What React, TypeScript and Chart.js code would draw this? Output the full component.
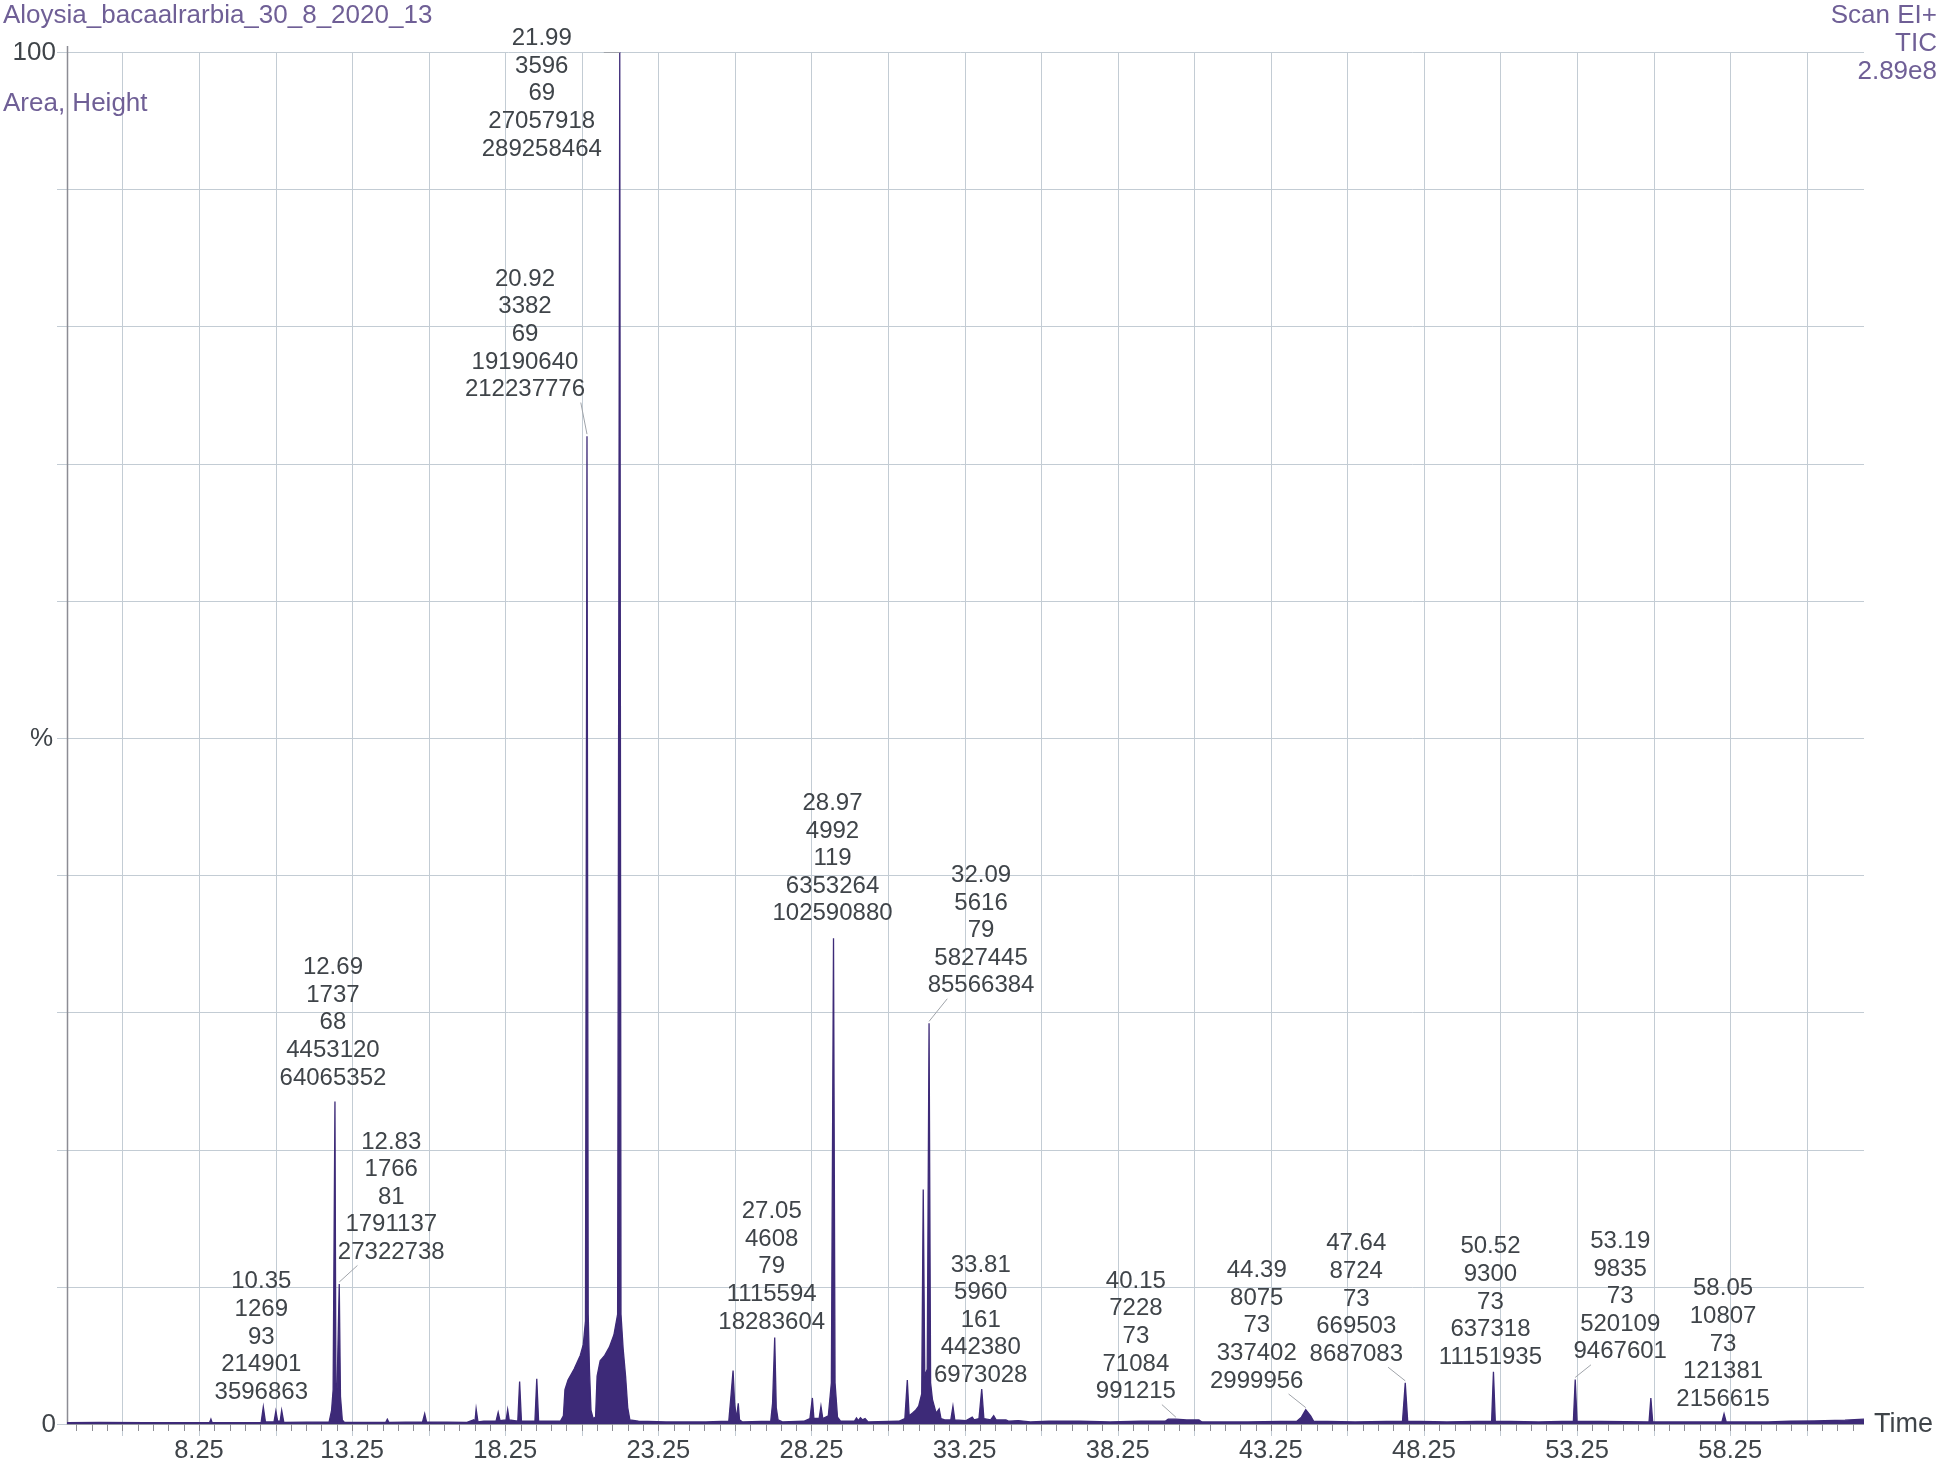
import React, { useEffect, useRef } from 'react';
import { Chart, registerables } from 'chart.js';

Chart.register(...registerables);

// ---------- text ----------
const sampleName = 'Aloysia_bacaalrarbia_30_8_2020_13';
const leftSubtitle = 'Area, Height';
const headerRight = ['Scan EI+', 'TIC', '2.89e8'];
const yAxisText = ['100', '%', '0'];
const yAxisTextValues = [100, 50, 0];
const xAxisTitle = 'Time';
const xTickLabels = ['8.25', '13.25', '18.25', '23.25', '28.25', '33.25', '38.25', '43.25', '48.25', '53.25', '58.25'];

// ---------- axis ranges ----------
const xMin = 3.94;
const xMax = 62.62;
const yMin = 0;
const yMax = 100;

// ---------- chromatogram trace (time, % of 2.89e8) ----------
const traceTime = [
  3.94, 5.0, 6.5, 8.6, 8.64, 8.68,
  10.28, 10.35, 10.42, 10.7, 10.76, 10.82, 10.9, 10.95, 11.02,
  12.5, 12.58, 12.63, 12.69, 12.72, 12.76, 12.83, 12.87, 12.93, 13.0,
  14.35, 14.4, 14.45, 15.55, 15.62, 15.68,
  17.0, 17.22, 17.26, 17.3, 17.36, 17.55,
  17.95, 18.02, 18.08, 18.28, 18.33, 18.38,
  18.66, 18.72, 18.78, 19.22, 19.28, 19.34,
  20.05, 20.15, 20.2, 20.3, 20.4, 20.5, 20.6, 20.7, 20.8, 20.87, 20.92, 20.96, 21.0, 21.05, 21.12,
  21.2, 21.25, 21.35, 21.5, 21.65, 21.8, 21.92, 21.99, 22.03, 22.1, 22.18, 22.25, 22.32,
  22.6, 23.5, 24.8,
  25.55, 25.62, 25.69, 25.74, 25.8, 25.86, 25.9, 26.0,
  26.92, 26.98, 27.05, 27.1, 27.16, 27.3,
  28.0, 28.2, 28.28, 28.33, 28.5, 28.56, 28.62, 28.8, 28.9, 28.97, 29.02, 29.1, 29.2,
  29.65, 29.72, 29.78, 29.85, 29.92, 30.0, 30.1,
  31.1, 31.3, 31.38, 31.44, 31.55, 31.65, 31.75, 31.85, 31.9, 31.95, 32.03, 32.09, 32.14, 32.2, 32.26, 32.32, 32.42, 32.48,
  32.6, 32.8, 32.87, 32.93, 33.3, 33.5, 33.56, 33.72, 33.81, 33.88,
  34.1, 34.2, 34.28, 34.6, 34.7, 35.0, 35.4, 36.0, 37.0, 38.0, 39.0,
  39.8, 39.9, 40.15, 40.5, 40.9, 41.0,
  42.5, 44.1, 44.25, 44.39, 44.55, 44.65,
  46.0, 47.55, 47.64, 47.72,
  49.0, 50.46, 50.52, 50.58,
  52.0, 53.13, 53.19, 53.25,
  55.6, 55.66, 55.72,
  57.98, 58.05, 58.12,
  59.5, 60.2, 61.0, 62.0, 62.62,
];
const tracePct = [
  0.1, 0.12, 0.1, 0.12, 0.35, 0.1,
  0.12, 1.25, 0.15, 0.15, 0.95, 0.2, 0.2, 1.0, 0.12,
  0.15, 1.0, 2.5, 23.5, 3.0, 2.6, 10.2, 2.0, 0.3, 0.12,
  0.12, 0.35, 0.12, 0.15, 0.75, 0.15,
  0.12, 0.3, 0.12, 1.1, 0.15, 0.2,
  0.2, 0.85, 0.25, 0.3, 1.05, 0.3,
  0.2, 3.1, 0.2, 0.2, 3.3, 0.2,
  0.2, 0.6, 2.5, 3.2, 3.6, 4.0, 4.5, 5.0, 5.8, 7.5, 72, 8, 4, 1.0, 0.4,
  0.5, 3.5, 4.6, 5.0, 5.6, 6.5, 8, 100, 8, 5.5, 3.5, 1.2, 0.3,
  0.2, 0.15, 0.15,
  0.2, 2.0, 3.9, 1.5, 0.4, 1.5, 0.3, 0.15,
  0.2, 1.5, 6.3, 1.2, 0.3, 0.15,
  0.2, 0.4, 1.9, 0.4, 0.4, 1.3, 0.4, 0.6, 3, 35.4, 3, 0.5, 0.2,
  0.2, 0.45, 0.25, 0.45, 0.3, 0.4, 0.15,
  0.2, 0.4, 3.2, 0.6, 0.8, 1.0, 1.3, 2.2, 17.1, 3.5, 4, 29.2, 3, 1.8, 1.3, 0.8, 1.1, 0.4,
  0.3, 0.3, 1.3, 0.3, 0.25, 0.5, 0.3, 0.4, 2.55, 0.4,
  0.3, 0.6, 0.3, 0.3, 0.2, 0.25, 0.15, 0.2, 0.2, 0.15, 0.2,
  0.2, 0.35, 0.35, 0.3, 0.3, 0.15,
  0.15, 0.2, 0.5, 1.05, 0.6, 0.2,
  0.15, 0.2, 3.0, 0.2,
  0.15, 0.2, 3.8, 0.2,
  0.15, 0.2, 3.25, 0.2,
  0.15, 1.9, 0.15,
  0.15, 0.75, 0.15,
  0.15, 0.2, 0.22, 0.28, 0.35,
];

// ---------- peak annotations ----------
const peakRT = ['10.35', '12.69', '12.83', '20.92', '21.99', '27.05', '28.97', '32.09', '33.81', '40.15', '44.39', '47.64', '50.52', '53.19', '58.05'];
const peakScan = [1269, 1737, 1766, 3382, 3596, 4608, 4992, 5616, 5960, 7228, 8075, 8724, 9300, 9835, 10807];
const peakMass = [93, 68, 81, 69, 69, 79, 119, 79, 161, 73, 73, 73, 73, 73, 73];
const peakArea = [214901, 4453120, 1791137, 19190640, 27057918, 1115594, 6353264, 5827445, 442380, 71084, 337402, 669503, 637318, 520109, 121381];
const peakHeight = [3596863, 64065352, 27322738, 212237776, 289258464, 18283604, 102590880, 85566384, 6973028, 991215, 2999956, 8687083, 11151935, 9467601, 2156615];

// label placement (pixel offsets from the apex) – layout only
const labelDx = [-2, -2, 52, -62, -78, -3, -1, 52, -1, -40, -49, -49, -3, 45, -1];
const labelDy = [-125, -134, -142, -157, -13.5, -126, -135, -148, -124, -138, -139, -139, -125, -138, -125];
// 0 = none, 1 = slanted leader from label bottom, 2 = horizontal leader at apex level
const labelLeader = [0, 0, 1, 1, 2, 0, 0, 1, 0, 1, 1, 1, 0, 1, 0];

// ---------- styles ----------
const FONT = '"Liberation Sans", Arial, sans-serif';
const TRACE = '#3d2a78';
const GRID = '#c3ccd4';
const AXIS = '#8c8c94';
const PURPLE = '#6f5f96';
const TEXT = '#3f4449';

function apexPct(rt: number): number {
  let best = 0;
  for (let i = 0; i < traceTime.length; i++) {
    if (Math.abs(traceTime[i] - rt) < 0.025 && tracePct[i] > best) best = tracePct[i];
  }
  return best;
}

const decorPlugin = {
  id: 'gcDecor',
  beforeDatasetsDraw(chart: any) {
    const { ctx, chartArea: a, scales } = chart;
    const xs = scales.x;
    const ys = scales.y;
    ctx.save();
    ctx.lineWidth = 1;
    ctx.strokeStyle = GRID;
    for (let v = yMin; v <= yMax; v += 10) {
      const py = Math.round(ys.getPixelForValue(v)) + 0.5;
      ctx.beginPath();
      ctx.moveTo(a.left - 10, py);
      ctx.lineTo(a.right, py);
      ctx.stroke();
    }
    for (let v = 5.75; v < xMax; v += 2.5) {
      const px = Math.round(xs.getPixelForValue(v)) + 0.5;
      ctx.beginPath();
      ctx.moveTo(px, a.top);
      ctx.lineTo(px, a.bottom + 12);
      ctx.stroke();
    }
    ctx.strokeStyle = AXIS;
    for (let v = 4.25; v < xMax; v += 0.5) {
      const px = Math.round(xs.getPixelForValue(v)) + 0.5;
      ctx.beginPath();
      ctx.moveTo(px, a.bottom);
      ctx.lineTo(px, a.bottom + 7);
      ctx.stroke();
    }
    ctx.strokeStyle = AXIS;
    ctx.lineWidth = 1.5;
    ctx.beginPath();
    ctx.moveTo(a.left + 0.5, a.top - 6);
    ctx.lineTo(a.left + 0.5, a.bottom);
    ctx.lineTo(a.right, a.bottom);
    ctx.stroke();
    ctx.restore();
  },
  afterDatasetsDraw(chart: any) {
    const { ctx, chartArea: a, scales } = chart;
    const xs = scales.x;
    const ys = scales.y;
    ctx.save();
    ctx.textBaseline = 'middle';

    ctx.fillStyle = PURPLE;
    ctx.font = `26px ${FONT}`;
    ctx.textAlign = 'left';
    ctx.fillText(sampleName, 3, 16);
    ctx.fillText(leftSubtitle, 3, 104);
    ctx.textAlign = 'right';
    headerRight.forEach((t, i) => ctx.fillText(t, 1937, 16 + i * 28));

    ctx.fillStyle = TEXT;
    ctx.font = `26px ${FONT}`;
    ctx.textAlign = 'right';
    yAxisText.forEach((t, i) => {
      const py = ys.getPixelForValue(yAxisTextValues[i]);
      ctx.fillText(t, a.left - (t === '%' ? 14 : 11), py + 1);
    });

    ctx.font = `25.5px ${FONT}`;
    ctx.textAlign = 'center';
    xTickLabels.forEach((t) => {
      ctx.fillText(t, xs.getPixelForValue(parseFloat(t)), a.bottom + 27);
    });
    ctx.font = `27px ${FONT}`;
    ctx.textAlign = 'left';
    ctx.fillText(xAxisTitle, a.right + 10, a.bottom + 1);

    ctx.font = `24px ${FONT}`;
    ctx.textAlign = 'center';
    const lh = 27.6;
    peakRT.forEach((rt, i) => {
      const t = parseFloat(rt);
      const ax = xs.getPixelForValue(t);
      const ay = ys.getPixelForValue(apexPct(t));
      const lx = ax + labelDx[i];
      const ly = ay + labelDy[i];
      const lines = [rt, String(peakScan[i]), String(peakMass[i]), String(peakArea[i]), String(peakHeight[i])];
      ctx.fillStyle = TEXT;
      lines.forEach((s, k) => ctx.fillText(s, lx, ly + k * lh));
      ctx.strokeStyle = '#a0a4aa';
      ctx.lineWidth = 1;
      if (labelLeader[i] === 1) {
        const sx = ax + labelDx[i] * (Math.abs(labelDx[i]) > 55 ? 0.1 : 0.35);
        const sy = ly + 4 * lh + 13;
        ctx.beginPath();
        ctx.moveTo(sx, sy);
        ctx.lineTo(ax, ay - 2);
        ctx.stroke();
      } else if (labelLeader[i] === 2) {
        const w = ctx.measureText(lines[4]).width;
        ctx.beginPath();
        ctx.moveTo(lx + w / 2 + 2, ay + 0.5);
        ctx.lineTo(ax, ay + 0.5);
        ctx.stroke();
      }
    });
    ctx.restore();
  },
};

export default function App() {
  const ref = useRef<HTMLCanvasElement | null>(null);
  useEffect(() => {
    document.body.style.margin = '0';
    const canvas = ref.current;
    if (!canvas) return;
    const points = traceTime.map((t, i) => ({ x: t, y: tracePct[i] }));
    const chart = new Chart(canvas, {
      type: 'line',
      data: {
        datasets: [
          {
            label: 'TIC',
            data: points,
            borderColor: TRACE,
            backgroundColor: TRACE,
            borderWidth: 1.3,
            pointRadius: 0,
            fill: 'origin',
            tension: 0,
          },
        ],
      },
      options: {
        responsive: false,
        animation: false,
        devicePixelRatio: 1,
        layout: { padding: { left: 67, top: 52, right: 82, bottom: 40 } },
        plugins: { legend: { display: false }, tooltip: { enabled: false } },
        scales: {
          x: { type: 'linear', min: xMin, max: xMax, display: false },
          y: { type: 'linear', min: yMin, max: yMax, display: false },
        },
      },
      plugins: [decorPlugin],
    });
    return () => chart.destroy();
  }, []);
  return (
    <div style={{ width: 1946, height: 1464, background: '#fff' }}>
      <canvas ref={ref} width={1946} height={1464} style={{ display: 'block', width: 1946, height: 1464 }} />
    </div>
  );
}
